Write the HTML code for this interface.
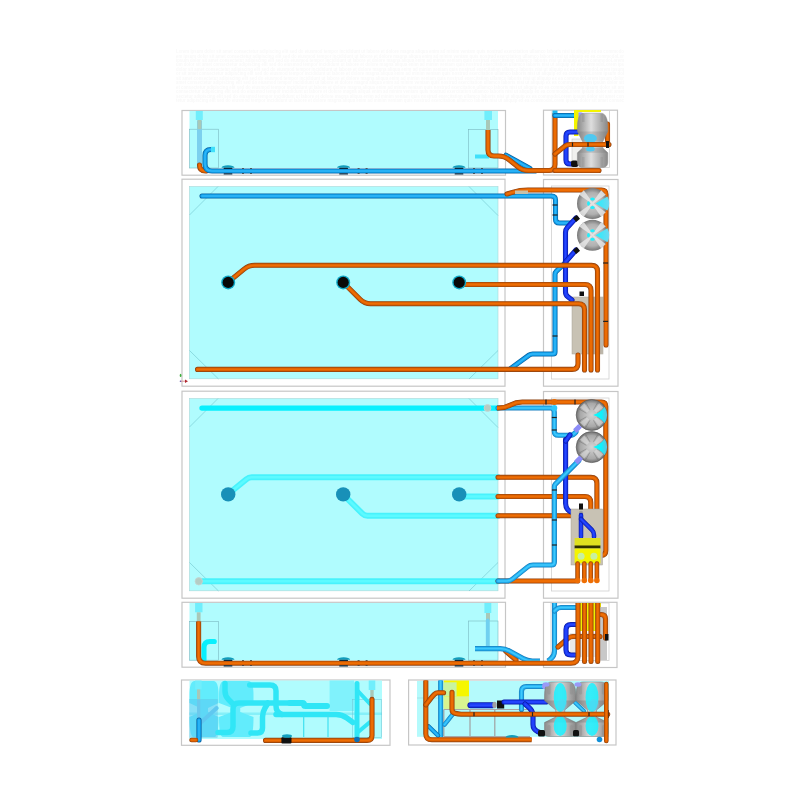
<!DOCTYPE html>
<html><head><meta charset="utf-8"><style>
html,body{margin:0;padding:0;background:#fff;overflow:hidden;font-family:"Liberation Sans",sans-serif;}
svg{display:block;filter:blur(0.4px);}
</style></head><body>
<svg width="800" height="800" viewBox="0 0 800 800">
<rect width="800" height="800" fill="#ffffff"/>
<defs>
<radialGradient id="gt" cx="0.45" cy="0.45" r="0.6"><stop offset="0" stop-color="#e4e4e4"/><stop offset="0.6" stop-color="#b0b0b0"/><stop offset="1" stop-color="#6a6a6a"/></radialGradient>
<linearGradient id="gh" x1="0" y1="0" x2="1" y2="0"><stop offset="0" stop-color="#8a8a8a"/><stop offset="0.45" stop-color="#dedede"/><stop offset="1" stop-color="#888"/></linearGradient>
<radialGradient id="gt2" cx="0.5" cy="0.5" r="0.5"><stop offset="0" stop-color="#d0d0d0"/><stop offset="0.7" stop-color="#b0b0b0"/><stop offset="1" stop-color="#787878"/></radialGradient>
<radialGradient id="gt3" cx="0.5" cy="0.5" r="0.5"><stop offset="0" stop-color="#d4d4d4"/><stop offset="0.75" stop-color="#a8a8a8"/><stop offset="1" stop-color="#6e6e6e"/></radialGradient>
<linearGradient id="gc3" x1="0" y1="0" x2="1" y2="0"><stop offset="0" stop-color="#00ffff"/><stop offset="0.6" stop-color="#10f0fc"/><stop offset="1" stop-color="#60c0dc"/></linearGradient>
<linearGradient id="gc" x1="0" y1="0" x2="1" y2="0"><stop offset="0" stop-color="#20f0ff"/><stop offset="1" stop-color="#70d8f0"/></linearGradient>
</defs>
<g font-family="'Liberation Sans', sans-serif" font-size="4.6" font-weight="bold" fill="#f8f8f8">
<text x="176" y="53.0" textLength="448" lengthAdjust="spacingAndGlyphs">Lorem ipsum dolor sit amet consectetur adipiscing elit sed do eiusmod tempor incididunt ut labore et dolore magna aliqua enim ad minim veniam quis nostrud exercitation ullamco laboris nisi ut aliquip ex ea commodo</text>
<text x="176" y="57.5" textLength="448" lengthAdjust="spacingAndGlyphs">em ipsum dolor sit amet consectetur adipiscing elit sed do eiusmod tempor incididunt ut labore et dolore magna aliqua enim ad minim veniam quis nostrud exercitation ullamco laboris nisi ut aliquip ex ea commodoLor</text>
<text x="176" y="61.9" textLength="448" lengthAdjust="spacingAndGlyphs">ipsum dolor sit amet consectetur adipiscing elit sed do eiusmod tempor incididunt ut labore et dolore magna aliqua enim ad minim veniam quis nostrud exercitation ullamco laboris nisi ut aliquip ex ea commodoLorem </text>
<text x="176" y="66.3" textLength="448" lengthAdjust="spacingAndGlyphs">um dolor sit amet consectetur adipiscing elit sed do eiusmod tempor incididunt ut labore et dolore magna aliqua enim ad minim veniam quis nostrud exercitation ullamco laboris nisi ut aliquip ex ea commodoLorem ips</text>
<text x="176" y="70.8" textLength="448" lengthAdjust="spacingAndGlyphs">dolor sit amet consectetur adipiscing elit sed do eiusmod tempor incididunt ut labore et dolore magna aliqua enim ad minim veniam quis nostrud exercitation ullamco laboris nisi ut aliquip ex ea commodoLorem ipsum </text>
<text x="176" y="75.2" textLength="448" lengthAdjust="spacingAndGlyphs">or sit amet consectetur adipiscing elit sed do eiusmod tempor incididunt ut labore et dolore magna aliqua enim ad minim veniam quis nostrud exercitation ullamco laboris nisi ut aliquip ex ea commodoLorem ipsum dol</text>
<text x="176" y="79.7" textLength="448" lengthAdjust="spacingAndGlyphs">sit amet consectetur adipiscing elit sed do eiusmod tempor incididunt ut labore et dolore magna aliqua enim ad minim veniam quis nostrud exercitation ullamco laboris nisi ut aliquip ex ea commodoLorem ipsum dolor </text>
<text x="176" y="84.2" textLength="448" lengthAdjust="spacingAndGlyphs"> amet consectetur adipiscing elit sed do eiusmod tempor incididunt ut labore et dolore magna aliqua enim ad minim veniam quis nostrud exercitation ullamco laboris nisi ut aliquip ex ea commodoLorem ipsum dolor sit</text>
<text x="176" y="88.6" textLength="448" lengthAdjust="spacingAndGlyphs">et consectetur adipiscing elit sed do eiusmod tempor incididunt ut labore et dolore magna aliqua enim ad minim veniam quis nostrud exercitation ullamco laboris nisi ut aliquip ex ea commodoLorem ipsum dolor sit am</text>
<text x="176" y="93.1" textLength="448" lengthAdjust="spacingAndGlyphs">consectetur adipiscing elit sed do eiusmod tempor incididunt ut labore et dolore magna aliqua enim ad minim veniam quis nostrud exercitation ullamco laboris nisi ut aliquip ex ea commodoLorem ipsum dolor sit amet </text>
<text x="176" y="97.5" textLength="448" lengthAdjust="spacingAndGlyphs">sectetur adipiscing elit sed do eiusmod tempor incididunt ut labore et dolore magna aliqua enim ad minim veniam quis nostrud exercitation ullamco laboris nisi ut aliquip ex ea commodoLorem ipsum dolor sit amet con</text>
<text x="176" y="102.0" textLength="448" lengthAdjust="spacingAndGlyphs">tetur adipiscing elit sed do eiusmod tempor incididunt ut labore et dolore magna aliqua enim ad minim veniam quis nostrud exercitation ullamco laboris nisi ut aliquip ex ea commodoLorem ipsum dolor sit amet consec</text>
</g>
<rect x="182.00" y="110.50" width="323.50" height="64.70" fill="#ffffff" stroke="#c6c6c6" stroke-width="1.20" />
<rect x="189.50" y="111.00" width="308.50" height="57.00" fill="#b0fcfe" stroke="none" stroke-width="1.00" />
<rect x="543.50" y="110.20" width="74.00" height="64.80" fill="#ffffff" stroke="#c6c6c6" stroke-width="1.20" />
<rect x="552.00" y="110.50" width="57.50" height="57.00" fill="none" stroke="#d0d0d0" stroke-width="0.80" />
<rect x="189.50" y="129.20" width="28.80" height="38.80" fill="none" stroke="#7ab8c0" stroke-width="0.60" />
<rect x="468.50" y="129.50" width="29.50" height="38.50" fill="none" stroke="#7ab8c0" stroke-width="0.60" />
<rect x="197.00" y="120.50" width="5.00" height="47.50" fill="#7cd0ee" stroke="none" stroke-width="1.00" />
<rect x="195.80" y="111.00" width="7.00" height="9.00" fill="#70eefc" stroke="none" stroke-width="1.00" />
<rect x="197.50" y="120.00" width="4.00" height="9.20" fill="#a8c8b8" stroke="none" stroke-width="1.00" />
<path d="M199.50 165.00 L199.50 165.00 Q199.50 171.00 205.50 171.00 L206.00 171.00" fill="none" stroke="#8c4210" stroke-width="5.10" stroke-linecap="round" stroke-linejoin="round"/>
<path d="M199.50 165.00 L199.50 165.00 Q199.50 171.00 205.50 171.00 L206.00 171.00" fill="none" stroke="#d65c00" stroke-width="3.80" stroke-linecap="round" stroke-linejoin="round"/>
<path d="M199.50 165.00 L199.50 165.00 Q199.50 171.00 205.50 171.00 L206.00 171.00" fill="none" stroke="#ee6e04" stroke-width="1.80" stroke-linecap="round" stroke-linejoin="round"/>
<path d="M211.00 149.50 L211.00 149.50 Q205.00 149.50 205.00 155.50 L205.00 164.00 Q205.00 171.00 212.00 171.00 L535.00 171.00" fill="none" stroke="#0a64a4" stroke-width="5.10" stroke-linecap="round" stroke-linejoin="round"/>
<path d="M211.00 149.50 L211.00 149.50 Q205.00 149.50 205.00 155.50 L205.00 164.00 Q205.00 171.00 212.00 171.00 L535.00 171.00" fill="none" stroke="#10a2ee" stroke-width="3.60" stroke-linecap="round" stroke-linejoin="round"/>
<path d="M211.00 149.50 L211.00 149.50 Q205.00 149.50 205.00 155.50 L205.00 164.00 Q205.00 171.00 212.00 171.00 L535.00 171.00" fill="none" stroke="#30b6f8" stroke-width="1.50" stroke-linecap="round" stroke-linejoin="round"/>
<rect x="211.00" y="146.80" width="4.00" height="5.40" fill="#40e0fa" stroke="none" stroke-width="1.00" />
<path d="M221.5 167.8 A6.5 2.6 0 0 1 234.5 167.8 Z" fill="#109cbc"/>
<rect x="223.60" y="167.80" width="8.80" height="1.10" fill="#0a2a40" stroke="none" stroke-width="1.00" rx="0.5"/>
<rect x="223.60" y="173.20" width="8.80" height="1.30" fill="#0a2a40" stroke="none" stroke-width="1.00" rx="0.5"/>
<rect x="242.00" y="168.00" width="2.00" height="0.80" fill="#404040" stroke="none" stroke-width="1.00" />
<rect x="242.00" y="173.20" width="2.00" height="0.80" fill="#404040" stroke="none" stroke-width="1.00" />
<rect x="250.00" y="168.00" width="2.00" height="0.80" fill="#404040" stroke="none" stroke-width="1.00" />
<rect x="250.00" y="173.20" width="2.00" height="0.80" fill="#404040" stroke="none" stroke-width="1.00" />
<path d="M337.1 167.8 A6.5 2.6 0 0 1 350.1 167.8 Z" fill="#109cbc"/>
<rect x="339.20" y="167.80" width="8.80" height="1.10" fill="#0a2a40" stroke="none" stroke-width="1.00" rx="0.5"/>
<rect x="339.20" y="173.20" width="8.80" height="1.30" fill="#0a2a40" stroke="none" stroke-width="1.00" rx="0.5"/>
<rect x="357.60" y="168.00" width="2.00" height="0.80" fill="#404040" stroke="none" stroke-width="1.00" />
<rect x="357.60" y="173.20" width="2.00" height="0.80" fill="#404040" stroke="none" stroke-width="1.00" />
<rect x="365.60" y="168.00" width="2.00" height="0.80" fill="#404040" stroke="none" stroke-width="1.00" />
<rect x="365.60" y="173.20" width="2.00" height="0.80" fill="#404040" stroke="none" stroke-width="1.00" />
<path d="M452.5 167.8 A6.5 2.6 0 0 1 465.5 167.8 Z" fill="#109cbc"/>
<rect x="454.60" y="167.80" width="8.80" height="1.10" fill="#0a2a40" stroke="none" stroke-width="1.00" rx="0.5"/>
<rect x="454.60" y="173.20" width="8.80" height="1.30" fill="#0a2a40" stroke="none" stroke-width="1.00" rx="0.5"/>
<rect x="473.00" y="168.00" width="2.00" height="0.80" fill="#404040" stroke="none" stroke-width="1.00" />
<rect x="473.00" y="173.20" width="2.00" height="0.80" fill="#404040" stroke="none" stroke-width="1.00" />
<rect x="481.00" y="168.00" width="2.00" height="0.80" fill="#404040" stroke="none" stroke-width="1.00" />
<rect x="481.00" y="173.20" width="2.00" height="0.80" fill="#404040" stroke="none" stroke-width="1.00" />
<rect x="484.40" y="111.00" width="7.60" height="9.00" fill="#70eefc" stroke="none" stroke-width="1.00" />
<rect x="486.00" y="120.00" width="4.00" height="10.00" fill="#a8c8b8" stroke="none" stroke-width="1.00" />
<rect x="475.00" y="154.50" width="14.00" height="4.00" fill="#40e0fa" stroke="none" stroke-width="1.00" />
<path d="M506.00 155.20 L530.00 168.60" fill="none" stroke="#0a64a4" stroke-width="5.10" stroke-linecap="round" stroke-linejoin="round"/>
<path d="M506.00 155.20 L530.00 168.60" fill="none" stroke="#10a2ee" stroke-width="3.60" stroke-linecap="round" stroke-linejoin="round"/>
<path d="M506.00 155.20 L530.00 168.60" fill="none" stroke="#30b6f8" stroke-width="1.50" stroke-linecap="round" stroke-linejoin="round"/>
<path d="M488.00 130.00 L488.00 150.00 Q488.00 156.00 494.00 156.00 L498.40 156.00 Q504.40 156.00 509.08 159.75 L517.82 166.75 Q522.50 170.50 528.50 170.50 L549.00 170.50 Q555.00 170.50 555.00 164.50 L555.00 113.00" fill="none" stroke="#8c4210" stroke-width="5.10" stroke-linecap="butt" stroke-linejoin="round"/>
<path d="M488.00 130.00 L488.00 150.00 Q488.00 156.00 494.00 156.00 L498.40 156.00 Q504.40 156.00 509.08 159.75 L517.82 166.75 Q522.50 170.50 528.50 170.50 L549.00 170.50 Q555.00 170.50 555.00 164.50 L555.00 113.00" fill="none" stroke="#d65c00" stroke-width="3.80" stroke-linecap="butt" stroke-linejoin="round"/>
<path d="M488.00 130.00 L488.00 150.00 Q488.00 156.00 494.00 156.00 L498.40 156.00 Q504.40 156.00 509.08 159.75 L517.82 166.75 Q522.50 170.50 528.50 170.50 L549.00 170.50 Q555.00 170.50 555.00 164.50 L555.00 113.00" fill="none" stroke="#ee6e04" stroke-width="1.80" stroke-linecap="butt" stroke-linejoin="round"/>
<path d="M555.00 170.50 L599.00 170.50" fill="none" stroke="#8c4210" stroke-width="5.10" stroke-linecap="round" stroke-linejoin="round"/>
<path d="M555.00 170.50 L599.00 170.50" fill="none" stroke="#d65c00" stroke-width="3.80" stroke-linecap="round" stroke-linejoin="round"/>
<path d="M555.00 170.50 L599.00 170.50" fill="none" stroke="#ee6e04" stroke-width="1.80" stroke-linecap="round" stroke-linejoin="round"/>
<rect x="552.50" y="110.50" width="5.00" height="5.50" fill="#20b8f0" stroke="none" stroke-width="1.00" />
<path d="M555.00 115.50 L577.00 115.50" fill="none" stroke="#0a64a4" stroke-width="5.10" stroke-linecap="round" stroke-linejoin="round"/>
<path d="M555.00 115.50 L577.00 115.50" fill="none" stroke="#10a2ee" stroke-width="3.60" stroke-linecap="round" stroke-linejoin="round"/>
<path d="M555.00 115.50 L577.00 115.50" fill="none" stroke="#30b6f8" stroke-width="1.50" stroke-linecap="round" stroke-linejoin="round"/>
<ellipse cx="580" cy="115.5" rx="5" ry="3.2" fill="#9a9af8"/>
<rect x="575.00" y="110.00" width="26.00" height="2.00" fill="#f4f400" stroke="none" stroke-width="1.00" />
<rect x="574.00" y="110.00" width="4.50" height="26.00" fill="#f4f400" stroke="none" stroke-width="1.00" />
<rect x="572.00" y="139.00" width="12.00" height="23.00" fill="#f0f0ee" stroke="#c0c0c0" stroke-width="0.50" />
<path d="M577.00 132.00 L570.00 132.00 Q566.00 132.00 566.00 136.00 L566.00 160.00 Q566.00 164.00 570.00 164.00 L576.00 164.00" fill="none" stroke="#0a1aa8" stroke-width="5.10" stroke-linecap="round" stroke-linejoin="round"/>
<path d="M577.00 132.00 L570.00 132.00 Q566.00 132.00 566.00 136.00 L566.00 160.00 Q566.00 164.00 570.00 164.00 L576.00 164.00" fill="none" stroke="#1838f0" stroke-width="3.60" stroke-linecap="round" stroke-linejoin="round"/>
<path d="M577.00 132.00 L570.00 132.00 Q566.00 132.00 566.00 136.00 L566.00 160.00 Q566.00 164.00 570.00 164.00 L576.00 164.00" fill="none" stroke="#2848ff" stroke-width="1.30" stroke-linecap="round" stroke-linejoin="round"/>
<rect x="571" y="160.5" width="7" height="6.5" fill="#101010" rx="2"/>
<path d="M607.50 124.00 L607.50 142.00" fill="none" stroke="#8c4210" stroke-width="5.10" stroke-linecap="round" stroke-linejoin="round"/>
<path d="M607.50 124.00 L607.50 142.00" fill="none" stroke="#d65c00" stroke-width="3.80" stroke-linecap="round" stroke-linejoin="round"/>
<path d="M607.50 124.00 L607.50 142.00" fill="none" stroke="#ee6e04" stroke-width="1.80" stroke-linecap="round" stroke-linejoin="round"/>
<path d="M584 113.2 L601 113.2 C606 113.2 607.8 120 607.8 127 L607.8 131.5 L602.8 141.6 L602.8 148 L607.8 152.8 L607.8 162 C607.8 166.5 605 167.6 602 167.6 L583 167.6 C580 167.6 577.4 166.5 577.4 162 L577.4 152.8 L582.6 148 L582.6 141.6 L577.4 131.5 L577.4 127 C577.4 120 579 113.2 584 113.2 Z" fill="url(#gh)" stroke="#8a8a8a" stroke-width="0.5"/>
<path d="M577.6 131.5 L607.6 131.5 L602.8 141.6 L582.8 141.6 Z M582.8 148 L602.8 148 L607.6 152.8 L577.6 152.8 Z" fill="#707070" opacity="0.25"/>
<rect x="582" y="114" width="2.5" height="8" fill="#888" opacity="0.35"/><rect x="600.5" y="114" width="2.5" height="8" fill="#888" opacity="0.35"/>
<rect x="582" y="157" width="2.5" height="10" fill="#888" opacity="0.3"/><rect x="600.5" y="157" width="2.5" height="10" fill="#888" opacity="0.3"/>
<ellipse cx="590.4" cy="138.4" rx="6.5" ry="4.5" fill="#50c8f0"/>
<ellipse cx="590.4" cy="149" rx="4.5" ry="2.5" fill="#50c8f0"/>
<path d="M609.00 144.50 L570.00 144.50 Q567.00 144.50 564.65 146.36 L555.00 154.00" fill="none" stroke="#8c4210" stroke-width="5.10" stroke-linecap="round" stroke-linejoin="round"/>
<path d="M609.00 144.50 L570.00 144.50 Q567.00 144.50 564.65 146.36 L555.00 154.00" fill="none" stroke="#d65c00" stroke-width="3.80" stroke-linecap="round" stroke-linejoin="round"/>
<path d="M609.00 144.50 L570.00 144.50 Q567.00 144.50 564.65 146.36 L555.00 154.00" fill="none" stroke="#ee6e04" stroke-width="1.80" stroke-linecap="round" stroke-linejoin="round"/>
<rect x="571.90" y="142.50" width="1.20" height="4.00" fill="#202020" stroke="none" stroke-width="1.00" />
<rect x="587.40" y="142.50" width="1.20" height="4.00" fill="#202020" stroke="none" stroke-width="1.00" />
<rect x="606.00" y="141.00" width="3.00" height="7.00" fill="#101010" stroke="none" stroke-width="1.00" />
<rect x="182.00" y="179.20" width="323.00" height="207.00" fill="#ffffff" stroke="#c6c6c6" stroke-width="1.20" />
<rect x="189.50" y="186.50" width="308.50" height="192.30" fill="#b0fcfe" stroke="#a8d8d8" stroke-width="0.60" />
<rect x="543.50" y="179.50" width="74.50" height="206.70" fill="#ffffff" stroke="#c6c6c6" stroke-width="1.20" />
<rect x="551.50" y="186.00" width="57.50" height="193.00" fill="none" stroke="#d0d0d0" stroke-width="0.80" />
<line x1="189.50" y1="215.00" x2="218.00" y2="186.50" stroke="#70c4cc" stroke-width="0.60" />
<line x1="469.00" y1="186.50" x2="498.00" y2="215.50" stroke="#70c4cc" stroke-width="0.60" />
<line x1="189.50" y1="350.50" x2="218.50" y2="379.00" stroke="#70c4cc" stroke-width="0.60" />
<line x1="469.00" y1="379.00" x2="498.00" y2="350.50" stroke="#70c4cc" stroke-width="0.60" />
<rect x="182.00" y="391.20" width="323.00" height="207.00" fill="#ffffff" stroke="#c6c6c6" stroke-width="1.20" />
<rect x="189.50" y="398.50" width="308.50" height="192.30" fill="#b0fcfe" stroke="#a8d8d8" stroke-width="0.60" />
<rect x="543.50" y="391.50" width="74.50" height="206.70" fill="#ffffff" stroke="#c6c6c6" stroke-width="1.20" />
<rect x="551.50" y="398.00" width="57.50" height="193.00" fill="none" stroke="#d0d0d0" stroke-width="0.80" />
<line x1="189.50" y1="427.00" x2="218.00" y2="398.50" stroke="#70c4cc" stroke-width="0.60" />
<line x1="469.00" y1="398.50" x2="498.00" y2="427.50" stroke="#70c4cc" stroke-width="0.60" />
<line x1="189.50" y1="562.50" x2="218.50" y2="591.00" stroke="#70c4cc" stroke-width="0.60" />
<line x1="469.00" y1="591.00" x2="498.00" y2="562.50" stroke="#70c4cc" stroke-width="0.60" />
<rect x="572.00" y="297.00" width="31.00" height="57.00" fill="#c8c2b4" stroke="#a8a298" stroke-width="0.50" />
<rect x="589.00" y="297.00" width="14.00" height="57.00" fill="#bcb6aa" stroke="none" stroke-width="1.00" />
<rect x="579.50" y="291.50" width="4.50" height="4.50" fill="#101010" stroke="none" stroke-width="1.00" />
<path d="M202.00 196.00 L551.50 196.00 Q555.50 196.00 555.50 200.00 L555.50 219.00 Q555.50 223.00 559.50 223.00 L570.00 223.00" fill="none" stroke="#0a64a4" stroke-width="5.10" stroke-linecap="round" stroke-linejoin="round"/>
<path d="M202.00 196.00 L551.50 196.00 Q555.50 196.00 555.50 200.00 L555.50 219.00 Q555.50 223.00 559.50 223.00 L570.00 223.00" fill="none" stroke="#10a2ee" stroke-width="3.60" stroke-linecap="round" stroke-linejoin="round"/>
<path d="M202.00 196.00 L551.50 196.00 Q555.50 196.00 555.50 200.00 L555.50 219.00 Q555.50 223.00 559.50 223.00 L570.00 223.00" fill="none" stroke="#30b6f8" stroke-width="1.50" stroke-linecap="round" stroke-linejoin="round"/>
<path d="M510.00 369.00 L528.98 355.18 Q530.60 354.00 532.60 354.00 L553.00 354.00 Q555.00 354.00 555.00 352.00 L555.00 274.50 Q555.00 272.50 556.45 271.12 L566.00 262.00" fill="none" stroke="#0a64a4" stroke-width="5.10" stroke-linecap="round" stroke-linejoin="round"/>
<path d="M510.00 369.00 L528.98 355.18 Q530.60 354.00 532.60 354.00 L553.00 354.00 Q555.00 354.00 555.00 352.00 L555.00 274.50 Q555.00 272.50 556.45 271.12 L566.00 262.00" fill="none" stroke="#10a2ee" stroke-width="3.60" stroke-linecap="round" stroke-linejoin="round"/>
<path d="M510.00 369.00 L528.98 355.18 Q530.60 354.00 532.60 354.00 L553.00 354.00 Q555.00 354.00 555.00 352.00 L555.00 274.50 Q555.00 272.50 556.45 271.12 L566.00 262.00" fill="none" stroke="#30b6f8" stroke-width="1.50" stroke-linecap="round" stroke-linejoin="round"/>
<rect x="552.50" y="204.40" width="5.00" height="1.20" fill="#202020" stroke="none" stroke-width="1.00" />
<rect x="552.50" y="214.40" width="5.00" height="1.20" fill="#202020" stroke="none" stroke-width="1.00" />
<rect x="552.50" y="335.40" width="5.00" height="1.20" fill="#202020" stroke="none" stroke-width="1.00" />
<path d="M576.00 218.00 L567.52 227.28 Q565.50 229.50 565.50 232.50 L565.50 292.00 Q565.50 295.00 567.88 296.83 L572.00 300.00" fill="none" stroke="#0a1aa8" stroke-width="5.10" stroke-linecap="round" stroke-linejoin="round"/>
<path d="M576.00 218.00 L567.52 227.28 Q565.50 229.50 565.50 232.50 L565.50 292.00 Q565.50 295.00 567.88 296.83 L572.00 300.00" fill="none" stroke="#1838f0" stroke-width="3.60" stroke-linecap="round" stroke-linejoin="round"/>
<path d="M576.00 218.00 L567.52 227.28 Q565.50 229.50 565.50 232.50 L565.50 292.00 Q565.50 295.00 567.88 296.83 L572.00 300.00" fill="none" stroke="#2848ff" stroke-width="1.30" stroke-linecap="round" stroke-linejoin="round"/>
<path d="M576.00 250.00 L565.50 262.00" fill="none" stroke="#0a1aa8" stroke-width="5.10" stroke-linecap="round" stroke-linejoin="round"/>
<path d="M576.00 250.00 L565.50 262.00" fill="none" stroke="#1838f0" stroke-width="3.60" stroke-linecap="round" stroke-linejoin="round"/>
<path d="M576.00 250.00 L565.50 262.00" fill="none" stroke="#2848ff" stroke-width="1.30" stroke-linecap="round" stroke-linejoin="round"/>
<path d="M228.00 282.30 L244.06 269.11 Q248.70 265.30 254.70 265.30 L591.50 265.30 Q597.50 265.30 597.50 271.30 L597.50 370.00" fill="none" stroke="#8c4210" stroke-width="5.10" stroke-linecap="round" stroke-linejoin="round"/>
<path d="M228.00 282.30 L244.06 269.11 Q248.70 265.30 254.70 265.30 L591.50 265.30 Q597.50 265.30 597.50 271.30 L597.50 370.00" fill="none" stroke="#d65c00" stroke-width="3.80" stroke-linecap="round" stroke-linejoin="round"/>
<path d="M228.00 282.30 L244.06 269.11 Q248.70 265.30 254.70 265.30 L591.50 265.30 Q597.50 265.30 597.50 271.30 L597.50 370.00" fill="none" stroke="#ee6e04" stroke-width="1.80" stroke-linecap="round" stroke-linejoin="round"/>
<path d="M459.00 284.50 L585.00 284.50 Q591.00 284.50 591.00 290.50 L591.00 370.00" fill="none" stroke="#8c4210" stroke-width="5.10" stroke-linecap="round" stroke-linejoin="round"/>
<path d="M459.00 284.50 L585.00 284.50 Q591.00 284.50 591.00 290.50 L591.00 370.00" fill="none" stroke="#d65c00" stroke-width="3.80" stroke-linecap="round" stroke-linejoin="round"/>
<path d="M459.00 284.50 L585.00 284.50 Q591.00 284.50 591.00 290.50 L591.00 370.00" fill="none" stroke="#ee6e04" stroke-width="1.80" stroke-linecap="round" stroke-linejoin="round"/>
<path d="M343.00 282.30 L360.25 299.47 Q364.50 303.70 370.50 303.70 L578.50 303.70 Q584.50 303.70 584.50 309.70 L584.50 370.00" fill="none" stroke="#8c4210" stroke-width="5.10" stroke-linecap="round" stroke-linejoin="round"/>
<path d="M343.00 282.30 L360.25 299.47 Q364.50 303.70 370.50 303.70 L578.50 303.70 Q584.50 303.70 584.50 309.70 L584.50 370.00" fill="none" stroke="#d65c00" stroke-width="3.80" stroke-linecap="round" stroke-linejoin="round"/>
<path d="M343.00 282.30 L360.25 299.47 Q364.50 303.70 370.50 303.70 L578.50 303.70 Q584.50 303.70 584.50 309.70 L584.50 370.00" fill="none" stroke="#ee6e04" stroke-width="1.80" stroke-linecap="round" stroke-linejoin="round"/>
<path d="M197.50 369.40 L572.00 369.40 Q578.00 369.40 578.00 363.40 L578.00 355.00" fill="none" stroke="#8c4210" stroke-width="5.10" stroke-linecap="round" stroke-linejoin="round"/>
<path d="M197.50 369.40 L572.00 369.40 Q578.00 369.40 578.00 363.40 L578.00 355.00" fill="none" stroke="#d65c00" stroke-width="3.80" stroke-linecap="round" stroke-linejoin="round"/>
<path d="M197.50 369.40 L572.00 369.40 Q578.00 369.40 578.00 363.40 L578.00 355.00" fill="none" stroke="#ee6e04" stroke-width="1.80" stroke-linecap="round" stroke-linejoin="round"/>
<path d="M507.00 194.00 L512.35 192.35 Q520.00 190.00 528.00 190.00 L592.50 190.00 Q597.00 190.00 601.50 190.00 L601.50 190.00 Q606.00 190.00 606.00 194.50 L606.00 345.00" fill="none" stroke="#8c4210" stroke-width="5.10" stroke-linecap="round" stroke-linejoin="round"/>
<path d="M507.00 194.00 L512.35 192.35 Q520.00 190.00 528.00 190.00 L592.50 190.00 Q597.00 190.00 601.50 190.00 L601.50 190.00 Q606.00 190.00 606.00 194.50 L606.00 345.00" fill="none" stroke="#d65c00" stroke-width="3.80" stroke-linecap="round" stroke-linejoin="round"/>
<path d="M507.00 194.00 L512.35 192.35 Q520.00 190.00 528.00 190.00 L592.50 190.00 Q597.00 190.00 601.50 190.00 L601.50 190.00 Q606.00 190.00 606.00 194.50 L606.00 345.00" fill="none" stroke="#ee6e04" stroke-width="1.80" stroke-linecap="round" stroke-linejoin="round"/>
<circle cx="228.2" cy="282.4" r="7" fill="#10a8c8"/>
<circle cx="228.2" cy="282.4" r="5.6" fill="#080808"/>
<circle cx="343.2" cy="282.4" r="7" fill="#10a8c8"/>
<circle cx="343.2" cy="282.4" r="5.6" fill="#080808"/>
<circle cx="459.2" cy="282.4" r="7" fill="#10a8c8"/>
<circle cx="459.2" cy="282.4" r="5.6" fill="#080808"/>
<rect x="515.00" y="190.50" width="13.00" height="3.50" fill="#c8c0a8" stroke="none" stroke-width="1.00" />
<rect x="603.10" y="262.40" width="5.00" height="1.20" fill="#202020" stroke="none" stroke-width="1.00" />
<rect x="603.10" y="320.80" width="5.00" height="1.20" fill="#202020" stroke="none" stroke-width="1.00" />
<circle cx="592.5" cy="203.5" r="15.5" fill="url(#gt2)"/>
<path d="M592.08 203.92 L601.20 216.72 L605.72 212.20 L592.92 203.08 Z" fill="#e6e6e6" opacity="0.85"/>
<path d="M592.08 203.08 L579.28 212.20 L583.80 216.72 L592.92 203.92 Z" fill="#e6e6e6" opacity="0.85"/>
<path d="M592.92 203.08 L583.80 190.28 L579.28 194.80 L592.08 203.92 Z" fill="#e6e6e6" opacity="0.85"/>
<path d="M592.92 203.92 L605.72 194.80 L601.20 190.28 L592.08 203.08 Z" fill="#e6e6e6" opacity="0.85"/>
<path d="M595.5 203.5 L607.5 196.5 A15.5 15.5 0 0 1 607.5 210.5 Z" fill="url(#gc)"/>
<ellipse cx="592.5" cy="199.0" rx="2.3" ry="1.5" fill="#20f0fc"/>
<ellipse cx="592.5" cy="207.5" rx="2.3" ry="1.5" fill="#20f0fc"/>
<ellipse cx="588.5" cy="203.5" rx="1.4" ry="2.2" fill="#20f0fc"/>
<circle cx="592.5" cy="235.2" r="15.5" fill="url(#gt2)"/>
<path d="M592.08 235.62 L601.20 248.42 L605.72 243.90 L592.92 234.78 Z" fill="#e6e6e6" opacity="0.85"/>
<path d="M592.08 234.78 L579.28 243.90 L583.80 248.42 L592.92 235.62 Z" fill="#e6e6e6" opacity="0.85"/>
<path d="M592.92 234.78 L583.80 221.98 L579.28 226.50 L592.08 235.62 Z" fill="#e6e6e6" opacity="0.85"/>
<path d="M592.92 235.62 L605.72 226.50 L601.20 221.98 L592.08 234.78 Z" fill="#e6e6e6" opacity="0.85"/>
<path d="M595.5 235.2 L607.5 228.2 A15.5 15.5 0 0 1 607.5 242.2 Z" fill="url(#gc)"/>
<ellipse cx="592.5" cy="230.7" rx="2.3" ry="1.5" fill="#20f0fc"/>
<ellipse cx="592.5" cy="239.2" rx="2.3" ry="1.5" fill="#20f0fc"/>
<ellipse cx="588.5" cy="235.2" rx="1.4" ry="2.2" fill="#20f0fc"/>
<rect x="574.0" y="216.0" width="5" height="5" fill="#101010" transform="rotate(-40 576.5 218.5)"/>
<rect x="574.0" y="248.0" width="5" height="5" fill="#101010" transform="rotate(-40 576.5 250.5)"/>
<path d="M202.00 408.10 L498.00 408.10" fill="none" stroke="#08f0fe" stroke-width="5.40" stroke-linecap="round" stroke-linejoin="round"/>
<path d="M228.00 494.30 L246.38 479.20 Q248.70 477.30 251.70 477.30 L498.00 477.30" fill="none" stroke="#48f2fc" stroke-width="6.00" stroke-linecap="round" stroke-linejoin="round"/>
<path d="M228.00 494.30 L246.38 479.20 Q248.70 477.30 251.70 477.30 L498.00 477.30" fill="none" stroke="#5cfaff" stroke-width="2.60" stroke-linecap="round" stroke-linejoin="round"/>
<path d="M459.00 496.50 L498.00 496.50" fill="none" stroke="#48f2fc" stroke-width="6.00" stroke-linecap="round" stroke-linejoin="round"/>
<path d="M459.00 496.50 L498.00 496.50" fill="none" stroke="#5cfaff" stroke-width="2.60" stroke-linecap="round" stroke-linejoin="round"/>
<path d="M343.00 494.30 L362.37 513.58 Q364.50 515.70 367.50 515.70 L498.00 515.70" fill="none" stroke="#48f2fc" stroke-width="6.00" stroke-linecap="round" stroke-linejoin="round"/>
<path d="M343.00 494.30 L362.37 513.58 Q364.50 515.70 367.50 515.70 L498.00 515.70" fill="none" stroke="#5cfaff" stroke-width="2.60" stroke-linecap="round" stroke-linejoin="round"/>
<path d="M202.00 581.30 L498.00 581.30" fill="none" stroke="#48f2fc" stroke-width="6.00" stroke-linecap="round" stroke-linejoin="round"/>
<path d="M202.00 581.30 L498.00 581.30" fill="none" stroke="#5cfaff" stroke-width="2.60" stroke-linecap="round" stroke-linejoin="round"/>
<circle cx="228.2" cy="494.4" r="7.2" fill="#1890b8"/>
<circle cx="343.2" cy="494.4" r="7.2" fill="#1890b8"/>
<circle cx="459.2" cy="494.4" r="7.2" fill="#1890b8"/>
<circle cx="198.8" cy="581.3" r="3.7" fill="#b4ccc4" stroke="#c4d4d0" stroke-width="0.8"/>
<circle cx="487.5" cy="408" r="3.5" fill="#b4ccc4" stroke="#c4d4d0" stroke-width="0.8"/>
<path d="M498.00 477.30 L590.90 477.30 Q596.90 477.30 596.90 483.30 L596.90 509.00" fill="none" stroke="#8c4210" stroke-width="5.10" stroke-linecap="round" stroke-linejoin="round"/>
<path d="M498.00 477.30 L590.90 477.30 Q596.90 477.30 596.90 483.30 L596.90 509.00" fill="none" stroke="#d65c00" stroke-width="3.80" stroke-linecap="round" stroke-linejoin="round"/>
<path d="M498.00 477.30 L590.90 477.30 Q596.90 477.30 596.90 483.30 L596.90 509.00" fill="none" stroke="#ee6e04" stroke-width="1.80" stroke-linecap="round" stroke-linejoin="round"/>
<path d="M498.00 496.50 L584.75 496.50 Q590.75 496.50 590.75 502.50 L590.75 509.00" fill="none" stroke="#8c4210" stroke-width="5.10" stroke-linecap="round" stroke-linejoin="round"/>
<path d="M498.00 496.50 L584.75 496.50 Q590.75 496.50 590.75 502.50 L590.75 509.00" fill="none" stroke="#d65c00" stroke-width="3.80" stroke-linecap="round" stroke-linejoin="round"/>
<path d="M498.00 496.50 L584.75 496.50 Q590.75 496.50 590.75 502.50 L590.75 509.00" fill="none" stroke="#ee6e04" stroke-width="1.80" stroke-linecap="round" stroke-linejoin="round"/>
<path d="M498.00 515.70 L572.00 515.70" fill="none" stroke="#8c4210" stroke-width="5.10" stroke-linecap="round" stroke-linejoin="round"/>
<path d="M498.00 515.70 L572.00 515.70" fill="none" stroke="#d65c00" stroke-width="3.80" stroke-linecap="round" stroke-linejoin="round"/>
<path d="M498.00 515.70 L572.00 515.70" fill="none" stroke="#ee6e04" stroke-width="1.80" stroke-linecap="round" stroke-linejoin="round"/>
<path d="M498.00 408.00 L550.30 408.00 Q554.30 408.00 554.30 412.00 L554.30 431.30 Q554.30 435.30 558.30 435.30 L569.50 435.30 Q573.50 435.30 575.92 432.11 L576.00 432.00" fill="none" stroke="#1a80c0" stroke-width="5.10" stroke-linecap="round" stroke-linejoin="round"/>
<path d="M498.00 408.00 L550.30 408.00 Q554.30 408.00 554.30 412.00 L554.30 431.30 Q554.30 435.30 558.30 435.30 L569.50 435.30 Q573.50 435.30 575.92 432.11 L576.00 432.00" fill="none" stroke="#20b0f0" stroke-width="3.60" stroke-linecap="round" stroke-linejoin="round"/>
<path d="M498.00 408.00 L550.30 408.00 Q554.30 408.00 554.30 412.00 L554.30 431.30 Q554.30 435.30 558.30 435.30 L569.50 435.30 Q573.50 435.30 575.92 432.11 L576.00 432.00" fill="none" stroke="#40c8fc" stroke-width="1.50" stroke-linecap="round" stroke-linejoin="round"/>
<path d="M497.00 408.00 L498.74 408.00 Q505.00 408.00 510.50 405.00 L510.50 405.00 Q516.00 402.00 522.26 402.00 L592.60 402.00 Q597.00 402.00 601.40 402.00 L601.40 402.00 Q605.80 402.00 605.80 406.40 L605.80 550.60 Q605.80 555.40 601.00 555.40 L601.00 555.40" fill="none" stroke="#8c4210" stroke-width="5.10" stroke-linecap="butt" stroke-linejoin="round"/>
<path d="M497.00 408.00 L498.74 408.00 Q505.00 408.00 510.50 405.00 L510.50 405.00 Q516.00 402.00 522.26 402.00 L592.60 402.00 Q597.00 402.00 601.40 402.00 L601.40 402.00 Q605.80 402.00 605.80 406.40 L605.80 550.60 Q605.80 555.40 601.00 555.40 L601.00 555.40" fill="none" stroke="#d65c00" stroke-width="3.80" stroke-linecap="butt" stroke-linejoin="round"/>
<path d="M497.00 408.00 L498.74 408.00 Q505.00 408.00 510.50 405.00 L510.50 405.00 Q516.00 402.00 522.26 402.00 L592.60 402.00 Q597.00 402.00 601.40 402.00 L601.40 402.00 Q605.80 402.00 605.80 406.40 L605.80 550.60 Q605.80 555.40 601.00 555.40 L601.00 555.40" fill="none" stroke="#ee6e04" stroke-width="1.80" stroke-linecap="butt" stroke-linejoin="round"/>
<circle cx="554.3" cy="401.9" r="3" fill="#e86a00"/>
<path d="M565.60 439.50 L565.60 503.48 Q565.60 507.00 567.80 509.75 L567.80 509.75 Q570.00 512.50 573.52 512.50 L581.00 512.50" fill="none" stroke="#0a1aa8" stroke-width="5.10" stroke-linecap="round" stroke-linejoin="round"/>
<path d="M565.60 439.50 L565.60 503.48 Q565.60 507.00 567.80 509.75 L567.80 509.75 Q570.00 512.50 573.52 512.50 L581.00 512.50" fill="none" stroke="#1838f0" stroke-width="3.60" stroke-linecap="round" stroke-linejoin="round"/>
<path d="M565.60 439.50 L565.60 503.48 Q565.60 507.00 567.80 509.75 L567.80 509.75 Q570.00 512.50 573.52 512.50 L581.00 512.50" fill="none" stroke="#2848ff" stroke-width="1.30" stroke-linecap="round" stroke-linejoin="round"/>
<path d="M570.00 435.00 L565.60 441.00" fill="none" stroke="#0a1aa8" stroke-width="5.10" stroke-linecap="round" stroke-linejoin="round"/>
<path d="M570.00 435.00 L565.60 441.00" fill="none" stroke="#1838f0" stroke-width="3.60" stroke-linecap="round" stroke-linejoin="round"/>
<path d="M570.00 435.00 L565.60 441.00" fill="none" stroke="#2848ff" stroke-width="1.30" stroke-linecap="round" stroke-linejoin="round"/>
<path d="M498.00 581.00 L577.60 581.00" fill="none" stroke="#8c4210" stroke-width="5.10" stroke-linecap="round" stroke-linejoin="round"/>
<path d="M498.00 581.00 L577.60 581.00" fill="none" stroke="#d65c00" stroke-width="3.80" stroke-linecap="round" stroke-linejoin="round"/>
<path d="M498.00 581.00 L577.60 581.00" fill="none" stroke="#ee6e04" stroke-width="1.80" stroke-linecap="round" stroke-linejoin="round"/>
<path d="M578.80 460.60 L556.16 483.34 Q555.50 484.00 554.95 484.75 L554.95 484.75 Q554.40 485.50 554.40 486.43 L554.40 562.00 Q554.40 565.00 551.40 565.00 L533.00 565.00 Q530.00 565.00 527.66 566.87 L512.34 579.13 Q510.00 581.00 507.00 581.00 L498.00 581.00" fill="none" stroke="#1a80c0" stroke-width="5.10" stroke-linecap="round" stroke-linejoin="round"/>
<path d="M578.80 460.60 L556.16 483.34 Q555.50 484.00 554.95 484.75 L554.95 484.75 Q554.40 485.50 554.40 486.43 L554.40 562.00 Q554.40 565.00 551.40 565.00 L533.00 565.00 Q530.00 565.00 527.66 566.87 L512.34 579.13 Q510.00 581.00 507.00 581.00 L498.00 581.00" fill="none" stroke="#20b0f0" stroke-width="3.60" stroke-linecap="round" stroke-linejoin="round"/>
<path d="M578.80 460.60 L556.16 483.34 Q555.50 484.00 554.95 484.75 L554.95 484.75 Q554.40 485.50 554.40 486.43 L554.40 562.00 Q554.40 565.00 551.40 565.00 L533.00 565.00 Q530.00 565.00 527.66 566.87 L512.34 579.13 Q510.00 581.00 507.00 581.00 L498.00 581.00" fill="none" stroke="#40c8fc" stroke-width="1.50" stroke-linecap="round" stroke-linejoin="round"/>
<rect x="551.90" y="489.40" width="5.00" height="1.20" fill="#202020" stroke="none" stroke-width="1.00" />
<rect x="551.90" y="519.40" width="5.00" height="1.20" fill="#202020" stroke="none" stroke-width="1.00" />
<rect x="551.90" y="544.40" width="5.00" height="1.20" fill="#202020" stroke="none" stroke-width="1.00" />
<rect x="571.00" y="509.00" width="31.60" height="56.00" fill="#c8c2b4" stroke="#a8a298" stroke-width="0.50" />
<rect x="579.00" y="503.50" width="4.00" height="6.00" fill="#101010" stroke="none" stroke-width="1.00" />
<circle cx="581" cy="513" r="2.2" fill="#a0a0a0"/>
<path d="M581.00 515.00 L581.00 537.00" fill="none" stroke="#0a1aa8" stroke-width="4.50" stroke-linecap="round" stroke-linejoin="round"/>
<path d="M581.00 515.00 L581.00 537.00" fill="none" stroke="#1838f0" stroke-width="3.18" stroke-linecap="round" stroke-linejoin="round"/>
<path d="M581.00 515.00 L581.00 537.00" fill="none" stroke="#2848ff" stroke-width="1.15" stroke-linecap="round" stroke-linejoin="round"/>
<path d="M581.00 519.00 L591.88 529.88 Q594.00 532.00 594.00 535.00 L594.00 537.00" fill="none" stroke="#0a1aa8" stroke-width="4.50" stroke-linecap="round" stroke-linejoin="round"/>
<path d="M581.00 519.00 L591.88 529.88 Q594.00 532.00 594.00 535.00 L594.00 537.00" fill="none" stroke="#1838f0" stroke-width="3.18" stroke-linecap="round" stroke-linejoin="round"/>
<path d="M581.00 519.00 L591.88 529.88 Q594.00 532.00 594.00 535.00 L594.00 537.00" fill="none" stroke="#2848ff" stroke-width="1.15" stroke-linecap="round" stroke-linejoin="round"/>
<rect x="574.60" y="538.00" width="25.80" height="8.00" fill="#e0e020" stroke="none" stroke-width="1.00" />
<rect x="574.60" y="545.50" width="25.80" height="3.00" fill="#303000" stroke="none" stroke-width="1.00" />
<rect x="574.60" y="548.50" width="25.80" height="14.80" fill="#f4f400" stroke="none" stroke-width="1.00" />
<circle cx="581.1" cy="556.3" r="3.5" fill="#c8f0a0"/>
<circle cx="593.9" cy="556.3" r="3.5" fill="#c8f0a0"/>
<path d="M577.60 563.50 L577.60 579.00" fill="none" stroke="#8c4210" stroke-width="4.60" stroke-linecap="round" stroke-linejoin="round"/>
<path d="M577.60 563.50 L577.60 579.00" fill="none" stroke="#d65c00" stroke-width="3.43" stroke-linecap="round" stroke-linejoin="round"/>
<path d="M577.60 563.50 L577.60 579.00" fill="none" stroke="#ee6e04" stroke-width="1.62" stroke-linecap="round" stroke-linejoin="round"/>
<circle cx="577.6" cy="580.5" r="2.8" fill="#ee6e04"/>
<path d="M584.30 563.50 L584.30 579.00" fill="none" stroke="#8c4210" stroke-width="4.60" stroke-linecap="round" stroke-linejoin="round"/>
<path d="M584.30 563.50 L584.30 579.00" fill="none" stroke="#d65c00" stroke-width="3.43" stroke-linecap="round" stroke-linejoin="round"/>
<path d="M584.30 563.50 L584.30 579.00" fill="none" stroke="#ee6e04" stroke-width="1.62" stroke-linecap="round" stroke-linejoin="round"/>
<circle cx="584.3" cy="580.5" r="2.8" fill="#ee6e04"/>
<path d="M590.75 563.50 L590.75 579.00" fill="none" stroke="#8c4210" stroke-width="4.60" stroke-linecap="round" stroke-linejoin="round"/>
<path d="M590.75 563.50 L590.75 579.00" fill="none" stroke="#d65c00" stroke-width="3.43" stroke-linecap="round" stroke-linejoin="round"/>
<path d="M590.75 563.50 L590.75 579.00" fill="none" stroke="#ee6e04" stroke-width="1.62" stroke-linecap="round" stroke-linejoin="round"/>
<circle cx="590.8" cy="580.5" r="2.8" fill="#ee6e04"/>
<path d="M596.90 563.50 L596.90 579.00" fill="none" stroke="#8c4210" stroke-width="4.60" stroke-linecap="round" stroke-linejoin="round"/>
<path d="M596.90 563.50 L596.90 579.00" fill="none" stroke="#d65c00" stroke-width="3.43" stroke-linecap="round" stroke-linejoin="round"/>
<path d="M596.90 563.50 L596.90 579.00" fill="none" stroke="#ee6e04" stroke-width="1.62" stroke-linecap="round" stroke-linejoin="round"/>
<circle cx="596.9" cy="580.5" r="2.8" fill="#ee6e04"/>
<circle cx="591.7" cy="415.0" r="15.5" fill="url(#gt3)" stroke="#5a5a5a" stroke-width="0.7"/>
<line x1="597.00" y1="416.77" x2="604.15" y2="420.94" stroke="#505050" stroke-width="0.8" opacity="0.4"/>
<line x1="593.47" y1="420.30" x2="597.64" y2="427.45" stroke="#505050" stroke-width="0.8" opacity="0.4"/>
<path d="M594.17 419.60 L599.12 426.67 L603.37 422.42 L596.30 417.47 Z" fill="#e0e0e0" opacity="0.55"/>
<line x1="589.93" y1="420.30" x2="585.76" y2="427.45" stroke="#505050" stroke-width="0.8" opacity="0.4"/>
<line x1="586.40" y1="416.77" x2="579.25" y2="420.94" stroke="#505050" stroke-width="0.8" opacity="0.4"/>
<path d="M587.10 417.47 L580.03 422.42 L584.28 426.67 L589.23 419.60 Z" fill="#e0e0e0" opacity="0.55"/>
<line x1="586.40" y1="413.23" x2="579.25" y2="409.06" stroke="#505050" stroke-width="0.8" opacity="0.4"/>
<line x1="589.93" y1="409.70" x2="585.76" y2="402.55" stroke="#505050" stroke-width="0.8" opacity="0.4"/>
<path d="M589.23 410.40 L584.28 403.33 L580.03 407.58 L587.10 412.53 Z" fill="#e0e0e0" opacity="0.55"/>
<line x1="593.47" y1="409.70" x2="597.64" y2="402.55" stroke="#505050" stroke-width="0.8" opacity="0.4"/>
<line x1="597.00" y1="413.23" x2="604.15" y2="409.06" stroke="#505050" stroke-width="0.8" opacity="0.4"/>
<path d="M596.30 412.53 L603.37 407.58 L599.12 403.33 L594.17 410.40 Z" fill="#e0e0e0" opacity="0.55"/>
<path d="M593.2 415.0 Q599.7 413.0 604.7 407.0 A15.5 15.5 0 0 1 604.7 423.0 Q599.7 417.0 593.2 415.0 Z" fill="url(#gc3)"/>
<circle cx="591.7" cy="447.1" r="15.5" fill="url(#gt3)" stroke="#5a5a5a" stroke-width="0.7"/>
<line x1="597.00" y1="448.87" x2="604.15" y2="453.04" stroke="#505050" stroke-width="0.8" opacity="0.4"/>
<line x1="593.47" y1="452.40" x2="597.64" y2="459.55" stroke="#505050" stroke-width="0.8" opacity="0.4"/>
<path d="M594.17 451.70 L599.12 458.77 L603.37 454.52 L596.30 449.57 Z" fill="#e0e0e0" opacity="0.55"/>
<line x1="589.93" y1="452.40" x2="585.76" y2="459.55" stroke="#505050" stroke-width="0.8" opacity="0.4"/>
<line x1="586.40" y1="448.87" x2="579.25" y2="453.04" stroke="#505050" stroke-width="0.8" opacity="0.4"/>
<path d="M587.10 449.57 L580.03 454.52 L584.28 458.77 L589.23 451.70 Z" fill="#e0e0e0" opacity="0.55"/>
<line x1="586.40" y1="445.33" x2="579.25" y2="441.16" stroke="#505050" stroke-width="0.8" opacity="0.4"/>
<line x1="589.93" y1="441.80" x2="585.76" y2="434.65" stroke="#505050" stroke-width="0.8" opacity="0.4"/>
<path d="M589.23 442.50 L584.28 435.43 L580.03 439.68 L587.10 444.63 Z" fill="#e0e0e0" opacity="0.55"/>
<line x1="593.47" y1="441.80" x2="597.64" y2="434.65" stroke="#505050" stroke-width="0.8" opacity="0.4"/>
<line x1="597.00" y1="445.33" x2="604.15" y2="441.16" stroke="#505050" stroke-width="0.8" opacity="0.4"/>
<path d="M596.30 444.63 L603.37 439.68 L599.12 435.43 L594.17 442.50 Z" fill="#e0e0e0" opacity="0.55"/>
<path d="M593.2 447.1 Q599.7 445.1 604.7 439.1 A15.5 15.5 0 0 1 604.7 455.1 Q599.7 449.1 593.2 447.1 Z" fill="url(#gc3)"/>
<rect x="573.8" y="426.0" width="7.5" height="5" fill="#8c8cf8" transform="rotate(-45 577.5 428.5)"/>
<rect x="574.8" y="457.5" width="7.5" height="5" fill="#8c8cf8" transform="rotate(-45 578.5 460.0)"/>
<circle cx="554.3" cy="408" r="3" fill="#30c8f8"/>
<rect x="551.80" y="416.90" width="5.00" height="1.20" fill="#202020" stroke="none" stroke-width="1.00" />
<rect x="551.80" y="429.40" width="5.00" height="1.20" fill="#202020" stroke="none" stroke-width="1.00" />
<rect x="545.40" y="399.50" width="1.20" height="5.00" fill="#202020" stroke="none" stroke-width="1.00" />
<rect x="574.40" y="399.50" width="1.20" height="5.00" fill="#202020" stroke="none" stroke-width="1.00" />
<line x1="180.5" y1="381.2" x2="185.5" y2="381.2" stroke="#d89898" stroke-width="1"/>
<path d="M185 379.4 L188 381.2 L185 383 Z" fill="#b02830"/>
<ellipse cx="180.6" cy="375.4" rx="0.9" ry="1.6" fill="#40b040"/>
<circle cx="180.5" cy="381.2" r="0.8" fill="#6050b0"/>
<rect x="182.00" y="602.30" width="323.50" height="64.90" fill="#ffffff" stroke="#c6c6c6" stroke-width="1.20" />
<rect x="189.50" y="603.00" width="308.50" height="57.50" fill="#b0fcfe" stroke="none" stroke-width="1.00" />
<rect x="543.50" y="602.30" width="73.50" height="65.20" fill="#ffffff" stroke="#c6c6c6" stroke-width="1.20" />
<rect x="551.00" y="603.00" width="58.00" height="57.50" fill="none" stroke="#d0d0d0" stroke-width="0.80" />
<rect x="189.50" y="621.60" width="28.90" height="38.60" fill="none" stroke="#7ab8c0" stroke-width="0.60" />
<rect x="468.50" y="621.00" width="29.50" height="39.20" fill="none" stroke="#7ab8c0" stroke-width="0.60" />
<rect x="195.10" y="603.00" width="7.40" height="9.30" fill="#70eefc" stroke="none" stroke-width="1.00" />
<rect x="196.80" y="612.30" width="3.80" height="9.30" fill="#a8c8b8" stroke="none" stroke-width="1.00" />
<path d="M214.30 641.50 L210.00 641.50 Q204.00 641.50 204.00 647.50 L204.00 660.00" fill="none" stroke="#08f0fe" stroke-width="5.08" stroke-linecap="round" stroke-linejoin="round"/>
<rect x="484.40" y="603.00" width="6.90" height="10.00" fill="#70eefc" stroke="none" stroke-width="1.00" />
<rect x="486.00" y="613.00" width="4.00" height="7.50" fill="#a8c8b8" stroke="none" stroke-width="1.00" />
<path d="M487.80 620.50 L487.80 646.00" fill="none" stroke="#70d0f0" stroke-width="3.92" stroke-linecap="round" stroke-linejoin="round"/>
<path d="M505.60 651.00 L516.00 660.00" fill="none" stroke="#8c4210" stroke-width="5.10" stroke-linecap="round" stroke-linejoin="round"/>
<path d="M505.60 651.00 L516.00 660.00" fill="none" stroke="#d65c00" stroke-width="3.80" stroke-linecap="round" stroke-linejoin="round"/>
<path d="M505.60 651.00 L516.00 660.00" fill="none" stroke="#ee6e04" stroke-width="1.80" stroke-linecap="round" stroke-linejoin="round"/>
<path d="M475.00 648.60 L500.00 648.60 Q505.00 648.60 509.38 651.01 L523.12 658.59 Q527.50 661.00 532.50 661.00 L540.00 661.00" fill="none" stroke="#1a80c0" stroke-width="5.10" stroke-linecap="butt" stroke-linejoin="round"/>
<path d="M475.00 648.60 L500.00 648.60 Q505.00 648.60 509.38 651.01 L523.12 658.59 Q527.50 661.00 532.50 661.00 L540.00 661.00" fill="none" stroke="#20b0f0" stroke-width="3.60" stroke-linecap="butt" stroke-linejoin="round"/>
<path d="M475.00 648.60 L500.00 648.60 Q505.00 648.60 509.38 651.01 L523.12 658.59 Q527.50 661.00 532.50 661.00 L540.00 661.00" fill="none" stroke="#40c8fc" stroke-width="1.50" stroke-linecap="butt" stroke-linejoin="round"/>
<rect x="577.00" y="603.00" width="24.00" height="28.00" fill="#f0f000" stroke="none" stroke-width="1.00" />
<rect x="598.00" y="607.00" width="9.00" height="53.00" fill="#c8c8c8" stroke="none" stroke-width="1.00" />
<rect x="570.00" y="633.00" width="30.00" height="24.00" fill="#e8e8e8" stroke="none" stroke-width="1.00" />
<path d="M554.50 603.00 L554.50 651.00 Q554.50 656.00 550.54 659.05 L548.00 661.00" fill="none" stroke="#1a80c0" stroke-width="5.10" stroke-linecap="butt" stroke-linejoin="round"/>
<path d="M554.50 603.00 L554.50 651.00 Q554.50 656.00 550.54 659.05 L548.00 661.00" fill="none" stroke="#20b0f0" stroke-width="3.60" stroke-linecap="butt" stroke-linejoin="round"/>
<path d="M554.50 603.00 L554.50 651.00 Q554.50 656.00 550.54 659.05 L548.00 661.00" fill="none" stroke="#40c8fc" stroke-width="1.50" stroke-linecap="butt" stroke-linejoin="round"/>
<path d="M554.50 611.00 L555.88 609.62 Q558.00 607.50 561.00 607.50 L575.00 607.50" fill="none" stroke="#1a80c0" stroke-width="5.10" stroke-linecap="round" stroke-linejoin="round"/>
<path d="M554.50 611.00 L555.88 609.62 Q558.00 607.50 561.00 607.50 L575.00 607.50" fill="none" stroke="#20b0f0" stroke-width="3.60" stroke-linecap="round" stroke-linejoin="round"/>
<path d="M554.50 611.00 L555.88 609.62 Q558.00 607.50 561.00 607.50 L575.00 607.50" fill="none" stroke="#40c8fc" stroke-width="1.50" stroke-linecap="round" stroke-linejoin="round"/>
<path d="M558.00 647.00 L567.74 638.48 Q570.00 636.50 573.00 636.50 L600.00 636.50" fill="none" stroke="#8c4210" stroke-width="5.10" stroke-linecap="round" stroke-linejoin="round"/>
<path d="M558.00 647.00 L567.74 638.48 Q570.00 636.50 573.00 636.50 L600.00 636.50" fill="none" stroke="#d65c00" stroke-width="3.80" stroke-linecap="round" stroke-linejoin="round"/>
<path d="M558.00 647.00 L567.74 638.48 Q570.00 636.50 573.00 636.50 L600.00 636.50" fill="none" stroke="#ee6e04" stroke-width="1.80" stroke-linecap="round" stroke-linejoin="round"/>
<path d="M575.00 624.50 L571.00 624.50 Q566.00 624.50 566.00 629.50 L566.00 650.00 Q566.00 655.00 571.00 655.00 L575.00 655.00" fill="none" stroke="#0a1aa8" stroke-width="5.10" stroke-linecap="round" stroke-linejoin="round"/>
<path d="M575.00 624.50 L571.00 624.50 Q566.00 624.50 566.00 629.50 L566.00 650.00 Q566.00 655.00 571.00 655.00 L575.00 655.00" fill="none" stroke="#1838f0" stroke-width="3.60" stroke-linecap="round" stroke-linejoin="round"/>
<path d="M575.00 624.50 L571.00 624.50 Q566.00 624.50 566.00 629.50 L566.00 650.00 Q566.00 655.00 571.00 655.00 L575.00 655.00" fill="none" stroke="#2848ff" stroke-width="1.30" stroke-linecap="round" stroke-linejoin="round"/>
<path d="M198.60 621.60 L198.60 656.20 Q198.60 663.20 205.60 663.20 L571.00 663.20 Q578.00 663.20 578.00 656.20 L578.00 603.00" fill="none" stroke="#8c4210" stroke-width="5.10" stroke-linecap="butt" stroke-linejoin="round"/>
<path d="M198.60 621.60 L198.60 656.20 Q198.60 663.20 205.60 663.20 L571.00 663.20 Q578.00 663.20 578.00 656.20 L578.00 603.00" fill="none" stroke="#d65c00" stroke-width="3.80" stroke-linecap="butt" stroke-linejoin="round"/>
<path d="M198.60 621.60 L198.60 656.20 Q198.60 663.20 205.60 663.20 L571.00 663.20 Q578.00 663.20 578.00 656.20 L578.00 603.00" fill="none" stroke="#ee6e04" stroke-width="1.80" stroke-linecap="butt" stroke-linejoin="round"/>
<path d="M221.5 659.8 A6.5 2.6 0 0 1 234.5 659.8 Z" fill="#109cbc"/>
<rect x="223.60" y="659.80" width="8.80" height="1.10" fill="#0a2a40" stroke="none" stroke-width="1.00" rx="0.5"/>
<rect x="223.60" y="665.20" width="8.80" height="1.30" fill="#0a2a40" stroke="none" stroke-width="1.00" rx="0.5"/>
<rect x="242.00" y="660.00" width="2.00" height="0.80" fill="#404040" stroke="none" stroke-width="1.00" />
<rect x="242.00" y="665.20" width="2.00" height="0.80" fill="#404040" stroke="none" stroke-width="1.00" />
<rect x="250.00" y="660.00" width="2.00" height="0.80" fill="#404040" stroke="none" stroke-width="1.00" />
<rect x="250.00" y="665.20" width="2.00" height="0.80" fill="#404040" stroke="none" stroke-width="1.00" />
<path d="M337.1 659.8 A6.5 2.6 0 0 1 350.1 659.8 Z" fill="#109cbc"/>
<rect x="339.20" y="659.80" width="8.80" height="1.10" fill="#0a2a40" stroke="none" stroke-width="1.00" rx="0.5"/>
<rect x="339.20" y="665.20" width="8.80" height="1.30" fill="#0a2a40" stroke="none" stroke-width="1.00" rx="0.5"/>
<rect x="357.60" y="660.00" width="2.00" height="0.80" fill="#404040" stroke="none" stroke-width="1.00" />
<rect x="357.60" y="665.20" width="2.00" height="0.80" fill="#404040" stroke="none" stroke-width="1.00" />
<rect x="365.60" y="660.00" width="2.00" height="0.80" fill="#404040" stroke="none" stroke-width="1.00" />
<rect x="365.60" y="665.20" width="2.00" height="0.80" fill="#404040" stroke="none" stroke-width="1.00" />
<path d="M452.5 659.8 A6.5 2.6 0 0 1 465.5 659.8 Z" fill="#109cbc"/>
<rect x="454.60" y="659.80" width="8.80" height="1.10" fill="#0a2a40" stroke="none" stroke-width="1.00" rx="0.5"/>
<rect x="454.60" y="665.20" width="8.80" height="1.30" fill="#0a2a40" stroke="none" stroke-width="1.00" rx="0.5"/>
<rect x="473.00" y="660.00" width="2.00" height="0.80" fill="#404040" stroke="none" stroke-width="1.00" />
<rect x="473.00" y="665.20" width="2.00" height="0.80" fill="#404040" stroke="none" stroke-width="1.00" />
<rect x="481.00" y="660.00" width="2.00" height="0.80" fill="#404040" stroke="none" stroke-width="1.00" />
<rect x="481.00" y="665.20" width="2.00" height="0.80" fill="#404040" stroke="none" stroke-width="1.00" />
<path d="M601.00 614.50 L601.00 614.50 Q605.50 614.50 605.50 619.00 L605.50 638.00" fill="none" stroke="#8c4210" stroke-width="5.10" stroke-linecap="round" stroke-linejoin="round"/>
<path d="M601.00 614.50 L601.00 614.50 Q605.50 614.50 605.50 619.00 L605.50 638.00" fill="none" stroke="#d65c00" stroke-width="3.80" stroke-linecap="round" stroke-linejoin="round"/>
<path d="M601.00 614.50 L601.00 614.50 Q605.50 614.50 605.50 619.00 L605.50 638.00" fill="none" stroke="#ee6e04" stroke-width="1.80" stroke-linecap="round" stroke-linejoin="round"/>
<rect x="605.00" y="634.00" width="3.50" height="6.50" fill="#101010" stroke="none" stroke-width="1.00" />
<path d="M582.0 603 L582.0 661.5 A2.5 2.5 0 0 0 587.0 661.5 L587.0 603 Z" fill="#8c4210"/>
<path d="M582.6 603 L582.6 661.5 A1.85 1.85 0 0 0 586.4 661.5 L586.4 603 Z" fill="#d65c00"/>
<rect x="583.6" y="603" width="1.7" height="58.5" fill="#ee6e04"/>
<path d="M588.5 603 L588.5 661.5 A2.5 2.5 0 0 0 593.5 661.5 L593.5 603 Z" fill="#8c4210"/>
<path d="M589.1 603 L589.1 661.5 A1.85 1.85 0 0 0 592.9 661.5 L592.9 603 Z" fill="#d65c00"/>
<rect x="590.1" y="603" width="1.7" height="58.5" fill="#ee6e04"/>
<path d="M595.2 603 L595.2 661.5 A2.5 2.5 0 0 0 600.2 661.5 L600.2 603 Z" fill="#8c4210"/>
<path d="M595.9 603 L595.9 661.5 A1.85 1.85 0 0 0 599.6 661.5 L599.6 603 Z" fill="#d65c00"/>
<rect x="596.9" y="603" width="1.7" height="58.5" fill="#ee6e04"/>
<rect x="181.50" y="680.00" width="208.50" height="65.30" fill="#ffffff" stroke="#c6c6c6" stroke-width="1.20" />
<rect x="189.50" y="680.50" width="192.50" height="58.50" fill="#b0fcfe" stroke="none" stroke-width="1.00" />
<rect x="189.50" y="712.50" width="192.50" height="2.50" fill="#7cecf8" stroke="none" stroke-width="1.00" opacity="0.8"/>
<path d="M194.5 681.0 L213.5 681.0 Q218.5 681.0 218.5 695.0 L218.5 703.0 L208.0 708.0 L208.0 712.0 L218.5 717.0 Q218.5 737.0 214.5 737.0 L193.5 737.0 Q189.5 737.0 189.5 717.0 L200.0 712.0 L200.0 708.0 L189.5 703.0 L189.5 695.0 Q189.5 681.0 194.5 681.0 Z" fill="#62ecfc" opacity="1.00"/>
<path d="M224.0 681.0 L248.5 681.0 Q253.5 681.0 253.5 695.0 L253.5 703.0 L240.2 708.0 L240.2 712.0 L253.5 717.0 Q253.5 737.0 249.5 737.0 L223.0 737.0 Q219.0 737.0 219.0 717.0 L232.2 712.0 L232.2 708.0 L219.0 703.0 L219.0 695.0 Q219.0 681.0 224.0 681.0 Z" fill="#62ecfc" opacity="1.00"/>
<rect x="329.60" y="680.50" width="24.40" height="30.50" fill="#80f2fc" stroke="none" stroke-width="1.00" />
<rect x="189.40" y="699.40" width="28.00" height="38.10" fill="#58c0f0" stroke="#60b0d0" stroke-width="0.50" opacity="0.45"/>
<rect x="352.60" y="699.40" width="28.70" height="38.10" fill="none" stroke="#70c0d0" stroke-width="0.50" />
<path d="M218.00 732.50 L227.00 732.50 Q233.00 732.50 233.00 726.50 L233.00 709.00 Q233.00 703.00 239.00 703.00 L290.00 703.00" fill="none" stroke="#30e6f6" stroke-width="5.5" stroke-linecap="round" stroke-linejoin="round"/>
<path d="M251.00 733.00 L257.50 733.00 Q262.50 733.00 262.50 728.00 L262.50 717.00 Q262.50 712.00 265.11 707.73 L268.00 703.00" fill="none" stroke="#30e6f6" stroke-width="5.5" stroke-linecap="round" stroke-linejoin="round"/>
<path d="M249.70 685.00 L270.00 685.00 Q276.00 685.00 276.00 691.00 L276.00 706.00 Q276.00 712.00 281.54 714.31 L282.00 714.50" fill="none" stroke="#30e6f6" stroke-width="5.5" stroke-linecap="round" stroke-linejoin="round"/>
<path d="M225.00 683.50 L225.00 691.00 Q225.00 696.00 228.54 699.54 L232.00 703.00" fill="none" stroke="#30e6f6" stroke-width="5.5" stroke-linecap="round" stroke-linejoin="round"/>
<path d="M290.00 703.00 L302.50 703.00 Q304.00 703.00 304.00 704.50 L304.00 704.50 Q304.00 706.00 305.50 706.00 L327.00 706.00" fill="none" stroke="#30e6f6" stroke-width="6.0" stroke-linecap="round" stroke-linejoin="round"/>
<path d="M276.00 714.50 L336.00 714.50 Q342.00 714.50 346.87 718.00 L353.00 722.40" fill="none" stroke="#30e6f6" stroke-width="5.5" stroke-linecap="round" stroke-linejoin="round"/>
<path d="M357.00 683.50 L357.00 739.00" fill="none" stroke="#30e6f6" stroke-width="5.0" stroke-linecap="round" stroke-linejoin="round"/>
<path d="M357.00 733.00 L370.00 722.00" fill="none" stroke="#30e6f6" stroke-width="4.0" stroke-linecap="round" stroke-linejoin="round"/>
<path d="M357.00 690.00 L370.00 704.00" fill="none" stroke="#30e6f6" stroke-width="4.0" stroke-linecap="round" stroke-linejoin="round"/>
<path d="M199.40 723.90 L216.70 708.00" fill="none" stroke="#60c8f0" stroke-width="4.0" stroke-linecap="round" stroke-linejoin="round"/>
<line x1="303.70" y1="715.00" x2="303.70" y2="737.00" stroke="#40e0f0" stroke-width="1.20" />
<line x1="328.00" y1="715.00" x2="328.00" y2="737.00" stroke="#40e0f0" stroke-width="1.20" />
<rect x="195.10" y="680.50" width="6.50" height="8.90" fill="#70eefc" stroke="none" stroke-width="1.00" />
<rect x="197.00" y="689.40" width="3.20" height="10.00" fill="#a8c8b8" stroke="none" stroke-width="1.00" />
<rect x="197.00" y="699.40" width="3.20" height="37.60" fill="#6cc8ec" stroke="none" stroke-width="1.00" />
<path d="M199.00 720.00 L199.00 740.00" fill="none" stroke="#0a64a4" stroke-width="5.20" stroke-linecap="round" stroke-linejoin="round"/>
<path d="M199.00 720.00 L199.00 740.00" fill="none" stroke="#10a2ee" stroke-width="3.67" stroke-linecap="round" stroke-linejoin="round"/>
<path d="M199.00 720.00 L199.00 740.00" fill="none" stroke="#30b6f8" stroke-width="1.53" stroke-linecap="round" stroke-linejoin="round"/>
<path d="M191.50 740.00 L196.00 740.00" fill="none" stroke="#8c4210" stroke-width="4.50" stroke-linecap="round" stroke-linejoin="round"/>
<path d="M191.50 740.00 L196.00 740.00" fill="none" stroke="#d65c00" stroke-width="3.35" stroke-linecap="round" stroke-linejoin="round"/>
<path d="M191.50 740.00 L196.00 740.00" fill="none" stroke="#ee6e04" stroke-width="1.59" stroke-linecap="round" stroke-linejoin="round"/>
<rect x="368.70" y="680.50" width="6.60" height="9.50" fill="#70eefc" stroke="none" stroke-width="1.00" />
<rect x="370.30" y="690.00" width="3.40" height="9.40" fill="#a8c8b8" stroke="none" stroke-width="1.00" />
<path d="M265.50 740.40 L367.00 740.40 Q372.00 740.40 372.00 735.40 L372.00 699.40" fill="none" stroke="#8c4210" stroke-width="5.10" stroke-linecap="round" stroke-linejoin="round"/>
<path d="M265.50 740.40 L367.00 740.40 Q372.00 740.40 372.00 735.40 L372.00 699.40" fill="none" stroke="#d65c00" stroke-width="3.80" stroke-linecap="round" stroke-linejoin="round"/>
<path d="M265.50 740.40 L367.00 740.40 Q372.00 740.40 372.00 735.40 L372.00 699.40" fill="none" stroke="#ee6e04" stroke-width="1.80" stroke-linecap="round" stroke-linejoin="round"/>
<rect x="281.40" y="737.30" width="10.10" height="6.20" fill="#101010" stroke="none" stroke-width="1.00" rx="1"/>
<ellipse cx="287" cy="736" rx="5" ry="1.8" fill="#10a0c0"/>
<circle cx="357" cy="739.5" r="2.8" fill="#0a70b8"/>
<rect x="408.60" y="680.00" width="207.40" height="65.00" fill="#ffffff" stroke="#c6c6c6" stroke-width="1.20" />
<rect x="417.00" y="681.00" width="192.00" height="55.80" fill="#b4fafc" stroke="none" stroke-width="1.00" />
<line x1="417.00" y1="698.00" x2="440.00" y2="698.00" stroke="#90c8d0" stroke-width="0.50" />
<line x1="443.80" y1="709.50" x2="443.80" y2="736.50" stroke="#a0a0a0" stroke-width="1.20" />
<line x1="470.00" y1="709.50" x2="470.00" y2="736.50" stroke="#a0a0a0" stroke-width="1.20" />
<line x1="494.80" y1="709.50" x2="494.80" y2="736.50" stroke="#a0a0a0" stroke-width="1.20" />
<line x1="443.80" y1="709.50" x2="530.00" y2="709.50" stroke="#a8a8a8" stroke-width="1.20" />
<line x1="443.80" y1="736.50" x2="530.00" y2="736.50" stroke="#a8a8a8" stroke-width="1.20" />
<rect x="443.80" y="680.50" width="25.20" height="27.90" fill="#f6f600" stroke="none" stroke-width="1.00" />
<rect x="443.80" y="682.30" width="12.80" height="14.00" fill="#c8f4a0" stroke="none" stroke-width="1.00" />
<rect x="443.80" y="696.30" width="25.20" height="12.10" fill="#d8f490" stroke="none" stroke-width="1.00" />
<path d="M440.60 680.50 L440.60 737.00" fill="none" stroke="#1a80c0" stroke-width="5.00" stroke-linecap="butt" stroke-linejoin="round"/>
<path d="M440.60 680.50 L440.60 737.00" fill="none" stroke="#20b0f0" stroke-width="3.53" stroke-linecap="butt" stroke-linejoin="round"/>
<path d="M440.60 680.50 L440.60 737.00" fill="none" stroke="#40c8fc" stroke-width="1.47" stroke-linecap="butt" stroke-linejoin="round"/>
<path d="M444.50 724.60 L453.00 713.80" fill="none" stroke="#1a80c0" stroke-width="4.50" stroke-linecap="round" stroke-linejoin="round"/>
<path d="M444.50 724.60 L453.00 713.80" fill="none" stroke="#20b0f0" stroke-width="3.18" stroke-linecap="round" stroke-linejoin="round"/>
<path d="M444.50 724.60 L453.00 713.80" fill="none" stroke="#40c8fc" stroke-width="1.32" stroke-linecap="round" stroke-linejoin="round"/>
<path d="M428.70 726.50 L438.00 735.50" fill="none" stroke="#0a64a4" stroke-width="4.50" stroke-linecap="round" stroke-linejoin="round"/>
<path d="M428.70 726.50 L438.00 735.50" fill="none" stroke="#10a2ee" stroke-width="3.18" stroke-linecap="round" stroke-linejoin="round"/>
<path d="M428.70 726.50 L438.00 735.50" fill="none" stroke="#30b6f8" stroke-width="1.32" stroke-linecap="round" stroke-linejoin="round"/>
<path d="M521.50 709.50 L521.50 691.50 Q521.50 686.50 526.50 686.50 L543.00 686.50" fill="none" stroke="#1a80c0" stroke-width="5.10" stroke-linecap="round" stroke-linejoin="round"/>
<path d="M521.50 709.50 L521.50 691.50 Q521.50 686.50 526.50 686.50 L543.00 686.50" fill="none" stroke="#20b0f0" stroke-width="3.60" stroke-linecap="round" stroke-linejoin="round"/>
<path d="M521.50 709.50 L521.50 691.50 Q521.50 686.50 526.50 686.50 L543.00 686.50" fill="none" stroke="#40c8fc" stroke-width="1.50" stroke-linecap="round" stroke-linejoin="round"/>
<ellipse cx="546" cy="686.5" rx="4" ry="3" fill="#9a9af8"/>
<path d="M425.80 680.50 L425.80 733.70 Q425.80 739.70 431.80 739.70 L531.60 739.70" fill="none" stroke="#8c4210" stroke-width="5.10" stroke-linecap="butt" stroke-linejoin="round"/>
<path d="M425.80 680.50 L425.80 733.70 Q425.80 739.70 431.80 739.70 L531.60 739.70" fill="none" stroke="#d65c00" stroke-width="3.80" stroke-linecap="butt" stroke-linejoin="round"/>
<path d="M425.80 680.50 L425.80 733.70 Q425.80 739.70 431.80 739.70 L531.60 739.70" fill="none" stroke="#ee6e04" stroke-width="1.80" stroke-linecap="butt" stroke-linejoin="round"/>
<path d="M425.80 704.80 L432.00 696.93 Q433.20 695.40 434.60 694.05 L434.60 694.05 Q436.00 692.70 437.94 692.70 L443.60 692.70" fill="none" stroke="#8c4210" stroke-width="5.10" stroke-linecap="round" stroke-linejoin="round"/>
<path d="M425.80 704.80 L432.00 696.93 Q433.20 695.40 434.60 694.05 L434.60 694.05 Q436.00 692.70 437.94 692.70 L443.60 692.70" fill="none" stroke="#d65c00" stroke-width="3.80" stroke-linecap="round" stroke-linejoin="round"/>
<path d="M425.80 704.80 L432.00 696.93 Q433.20 695.40 434.60 694.05 L434.60 694.05 Q436.00 692.70 437.94 692.70 L443.60 692.70" fill="none" stroke="#ee6e04" stroke-width="1.80" stroke-linecap="round" stroke-linejoin="round"/>
<path d="M470.40 705.20 L492.70 705.20" fill="none" stroke="#0a1aa8" stroke-width="6.00" stroke-linecap="round" stroke-linejoin="round"/>
<path d="M470.40 705.20 L492.70 705.20" fill="none" stroke="#1838f0" stroke-width="4.24" stroke-linecap="round" stroke-linejoin="round"/>
<path d="M470.40 705.20 L492.70 705.20" fill="none" stroke="#2848ff" stroke-width="1.53" stroke-linecap="round" stroke-linejoin="round"/>
<ellipse cx="494.5" cy="705" rx="2.2" ry="3.2" fill="#a0a0a0"/>
<rect x="497.00" y="700.50" width="7.20" height="8.00" fill="#101010" stroke="none" stroke-width="1.00" />
<path d="M504.00 702.00 L546.00 702.00" fill="none" stroke="#0a1aa8" stroke-width="5.10" stroke-linecap="round" stroke-linejoin="round"/>
<path d="M504.00 702.00 L546.00 702.00" fill="none" stroke="#1838f0" stroke-width="3.60" stroke-linecap="round" stroke-linejoin="round"/>
<path d="M504.00 702.00 L546.00 702.00" fill="none" stroke="#2848ff" stroke-width="1.30" stroke-linecap="round" stroke-linejoin="round"/>
<path d="M525.00 704.00 L529.24 707.71 Q533.00 711.00 533.00 716.00 L533.00 724.60 Q533.00 729.60 537.61 731.53 L541.60 733.20" fill="none" stroke="#0a1aa8" stroke-width="5.10" stroke-linecap="round" stroke-linejoin="round"/>
<path d="M525.00 704.00 L529.24 707.71 Q533.00 711.00 533.00 716.00 L533.00 724.60 Q533.00 729.60 537.61 731.53 L541.60 733.20" fill="none" stroke="#1838f0" stroke-width="3.60" stroke-linecap="round" stroke-linejoin="round"/>
<path d="M525.00 704.00 L529.24 707.71 Q533.00 711.00 533.00 716.00 L533.00 724.60 Q533.00 729.60 537.61 731.53 L541.60 733.20" fill="none" stroke="#2848ff" stroke-width="1.30" stroke-linecap="round" stroke-linejoin="round"/>
<path d="M575.00 702.50 L584.00 711.00" fill="none" stroke="#1a80c0" stroke-width="4.00" stroke-linecap="round" stroke-linejoin="round"/>
<path d="M575.00 702.50 L584.00 711.00" fill="none" stroke="#20b0f0" stroke-width="2.82" stroke-linecap="round" stroke-linejoin="round"/>
<path d="M575.00 702.50 L584.00 711.00" fill="none" stroke="#40c8fc" stroke-width="1.18" stroke-linecap="round" stroke-linejoin="round"/>
<path d="M551.5 682 L569 682 C574.5 682 576 688 576 697 L576 700.5 L564.75 710 L564.75 717 L576 722.5 L576 733 Q576 736.5 572 736.5 L548.5 736.5 Q544.5 736.5 544.5 733 L544.5 722.5 L555.75 717 L555.75 710 L544.5 700.5 L544.5 697 C544.5 688 546.0 682 551.5 682 Z" fill="url(#gh)" stroke="#7a7a7a" stroke-width="0.5"/>
<path d="M544.5 700.5 L576.0 700.5 L564.8 710 L555.8 710 Z M555.8 717 L564.8 717 L576.0 722.5 L544.5 722.5 Z" fill="#606060" opacity="0.3"/>
<rect x="547.4" y="683.5" width="3.2" height="11" rx="1.6" fill="#8c8c8c" opacity="0.45"/>
<rect x="547.4" y="725" width="3.2" height="11" rx="1.6" fill="#8c8c8c" opacity="0.45"/>
<rect x="569.9" y="683.5" width="3.2" height="11" rx="1.6" fill="#8c8c8c" opacity="0.45"/>
<rect x="569.9" y="725" width="3.2" height="11" rx="1.6" fill="#8c8c8c" opacity="0.45"/>
<ellipse cx="560.2" cy="697.5" rx="6.5" ry="14.5" fill="#22eefc" opacity="0.9"/>
<ellipse cx="560.2" cy="726" rx="6.5" ry="10" fill="#22eefc" opacity="0.9"/>
<ellipse cx="562.2" cy="705" rx="5" ry="6" fill="#70c8f0" opacity="0.35"/>
<path d="M583 682 L601 682 C606.5 682 608 688 608 697 L608 700.5 L596.5 710 L596.5 717 L608 722.5 L608 733 Q608 736.5 604 736.5 L580 736.5 Q576 736.5 576 733 L576 722.5 L587.5 717 L587.5 710 L576 700.5 L576 697 C576 688 577.5 682 583 682 Z" fill="url(#gh)" stroke="#7a7a7a" stroke-width="0.5"/>
<path d="M576.0 700.5 L608.0 700.5 L596.5 710 L587.5 710 Z M587.5 717 L596.5 717 L608.0 722.5 L576.0 722.5 Z" fill="#606060" opacity="0.3"/>
<rect x="578.9" y="683.5" width="3.2" height="11" rx="1.6" fill="#8c8c8c" opacity="0.45"/>
<rect x="578.9" y="725" width="3.2" height="11" rx="1.6" fill="#8c8c8c" opacity="0.45"/>
<rect x="601.9" y="683.5" width="3.2" height="11" rx="1.6" fill="#8c8c8c" opacity="0.45"/>
<rect x="601.9" y="725" width="3.2" height="11" rx="1.6" fill="#8c8c8c" opacity="0.45"/>
<ellipse cx="592.0" cy="697.5" rx="6.5" ry="14.5" fill="#22eefc" opacity="0.9"/>
<ellipse cx="592.0" cy="726" rx="6.5" ry="10" fill="#22eefc" opacity="0.9"/>
<ellipse cx="594.0" cy="705" rx="5" ry="6" fill="#70c8f0" opacity="0.35"/>
<ellipse cx="546" cy="684.5" rx="3.5" ry="2.2" fill="#9a9af8"/>
<ellipse cx="578" cy="684.5" rx="3.5" ry="2.2" fill="#9a9af8"/>
<path d="M452.00 692.20 L452.00 709.27 Q452.00 712.40 455.00 713.30 L455.00 713.30 Q458.00 714.20 461.13 714.20 L607.70 714.20" fill="none" stroke="#8c4210" stroke-width="5.10" stroke-linecap="round" stroke-linejoin="round"/>
<path d="M452.00 692.20 L452.00 709.27 Q452.00 712.40 455.00 713.30 L455.00 713.30 Q458.00 714.20 461.13 714.20 L607.70 714.20" fill="none" stroke="#d65c00" stroke-width="3.80" stroke-linecap="round" stroke-linejoin="round"/>
<path d="M452.00 692.20 L452.00 709.27 Q452.00 712.40 455.00 713.30 L455.00 713.30 Q458.00 714.20 461.13 714.20 L607.70 714.20" fill="none" stroke="#ee6e04" stroke-width="1.80" stroke-linecap="round" stroke-linejoin="round"/>
<rect x="604.50" y="710.00" width="4.30" height="8.00" fill="#101010" stroke="none" stroke-width="1.00" />
<rect x="473.40" y="712.20" width="1.20" height="4.00" fill="#202020" stroke="none" stroke-width="1.00" />
<rect x="531.90" y="712.20" width="1.20" height="4.00" fill="#202020" stroke="none" stroke-width="1.00" />
<rect x="588.40" y="712.20" width="1.20" height="4.00" fill="#202020" stroke="none" stroke-width="1.00" />
<path d="M606.30 684.00 L606.30 741.00" fill="none" stroke="#8c4210" stroke-width="4.60" stroke-linecap="round" stroke-linejoin="round"/>
<path d="M606.30 684.00 L606.30 741.00" fill="none" stroke="#d65c00" stroke-width="3.43" stroke-linecap="round" stroke-linejoin="round"/>
<path d="M606.30 684.00 L606.30 741.00" fill="none" stroke="#ee6e04" stroke-width="1.62" stroke-linecap="round" stroke-linejoin="round"/>
<circle cx="599.5" cy="739.5" r="2.8" fill="#1090d8"/>
<rect x="538.00" y="730.00" width="7.00" height="6.50" fill="#101010" stroke="none" stroke-width="1.00" rx="1.5"/>
<rect x="573.00" y="730.00" width="6.00" height="6.50" fill="#101010" stroke="none" stroke-width="1.00" rx="1.5"/>
<path d="M505.5 737.6 A6.5 2.6 0 0 1 518.5 737.6 Z" fill="#109cbc"/>
</svg></body></html>
